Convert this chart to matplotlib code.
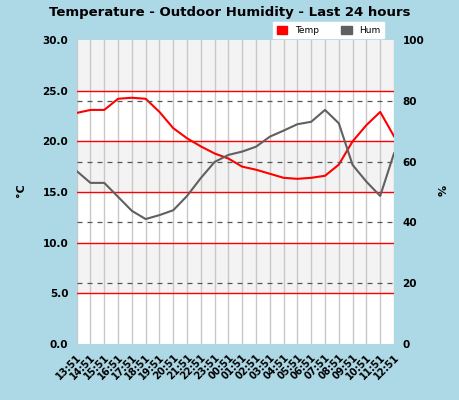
import matplotlib
matplotlib.use("Agg")
import matplotlib.pyplot as plt
import matplotlib.patches as mpatches

HOURS = ["13:51", "14:51", "15:51", "16:51", "17:51", "18:51", "19:51", "20:51",
         "21:51", "22:51", "23:51", "00:51", "01:51", "02:51", "03:51", "04:51",
         "05:51", "06:51", "07:51", "08:51", "09:51", "10:51", "11:51", "12:51"]
TEMP = [22.8, 23.1, 23.1, 24.2, 24.3, 24.2, 22.9, 21.3, 20.3, 19.5, 18.8, 18.3,
        17.5, 17.2, 16.8, 16.4, 16.3, 16.4, 16.6, 17.7, 20.0, 21.6, 22.9, 20.5]
HUM = [56.9, 53.0, 53.0, 48.4, 43.8, 41.1, 42.4, 44.0, 48.7, 54.6, 59.9, 62.2,
       63.3, 64.9, 68.2, 70.2, 72.3, 73.1, 77.0, 72.6, 58.9, 53.4, 48.7, 62.7]

BG = "#add8e6"
x = list(range(len(HOURS)))

fig = plt.figure(figsize=(4.6, 4.0), dpi=100, facecolor=BG)
ax = fig.add_axes([0.1667, 0.14, 0.6898, 0.76])
ax.set_facecolor("white")
ax.set_xlim(0, len(HOURS) - 1)
ax.set_ylim(0, 30)

# полосы фона
for lo in (5, 15, 25):
    ax.axhspan(lo, lo + 5, color="#f3f3f3", zorder=0)
for i in x:
    ax.axvline(i, color="#c8c8c8", lw=1, zorder=1)
for v in (5, 10, 15, 20, 25):
    ax.axhline(v, color="red", lw=1, zorder=2)

ax2 = ax.twinx()
ax2.set_ylim(0, 100)
for v in (20, 40, 60, 80):
    ax2.axhline(v, color="#555555", lw=0.9, ls=(0, (4, 4)), zorder=2)

ax.plot(x, TEMP, color="red", lw=1.5, zorder=4)
ax2.plot(x, HUM, color="#606060", lw=1.5, zorder=4)

ax.set_yticks([0, 5, 10, 15, 20, 25, 30])
ax.set_yticklabels(["%.1f" % v for v in [0, 5, 10, 15, 20, 25, 30]],
                   fontsize=7.5, fontweight="bold")
ax2.set_yticks([0, 20, 40, 60, 80, 100])
ax2.set_yticklabels(["0", "20", "40", "60", "80", "100"], fontsize=7.5, fontweight="bold")
ax.set_xticks(x)
ax.set_xticklabels(HOURS, rotation=45, ha="right", rotation_mode="anchor",
                   fontsize=7, fontweight="bold")
for a in (ax, ax2):
    a.tick_params(length=0, pad=6)
    for s in a.spines.values():
        s.set_visible(False)

fig.text(0.045, 0.525, "°C", rotation=90, ha="center", va="center",
         fontsize=8, fontweight="bold")
fig.text(0.965, 0.525, "%", rotation=90, ha="center", va="center",
         fontsize=8, fontweight="bold")
fig.suptitle("Temperature - Outdoor Humidity - Last 24 hours",
             y=0.985, fontsize=9.5, fontweight="bold")

handles = [mpatches.Patch(color="red", label="Temp"),
           mpatches.Patch(color="#606060", label="Hum")]
fig.legend(handles=handles, loc="lower right", bbox_to_anchor=(0.845, 0.893),
           ncol=2, fontsize=6.5, frameon=True, fancybox=False, edgecolor="white",
           framealpha=1, handlelength=1.2, handleheight=1.0, columnspacing=2.5,
           borderpad=0.4)

fig.savefig("out.png", facecolor=BG)
